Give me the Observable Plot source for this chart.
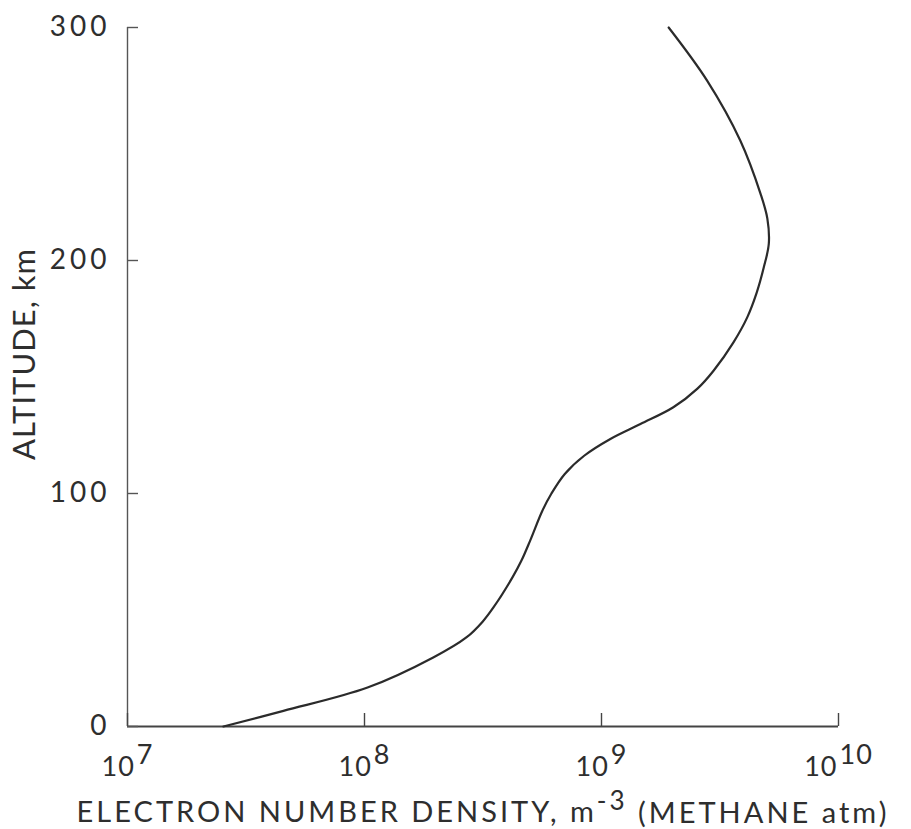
<!DOCTYPE html>
<html>
<head>
<meta charset="utf-8">
<script src="https://cdn.jsdelivr.net/npm/d3@7"></script>
<script src="https://cdn.jsdelivr.net/npm/@observablehq/plot@0.6"></script>
<style>
  html, body { margin: 0; padding: 0; background: #fff; }
</style>
</head>
<body>
<div id="chart"></div>
<script>
// Altitude (km) and electron number density (m^-3)
const altitudeKm = [0, 6.7, 16.7, 29.6, 38.2, 45, 51.1, 64, 71.1, 80, 92.6, 100, 108.4, 116.2, 123.4, 129.8, 137, 145, 152.7, 165, 175.6, 186, 197.1, 207.1, 218, 228.6, 251.5, 277.2, 300];
const electronDensity = [2.54e7, 4.55e7, 1.03e8, 1.95e8, 2.69e8, 3.15e8, 3.50e8, 4.21e8, 4.59e8, 5.01e8, 5.63e8, 6.15e8, 7.0e8, 8.45e8, 1.09e9, 1.46e9, 2.01e9, 2.54e9, 2.97e9, 3.61e9, 4.12e9, 4.51e9, 4.84e9, 5.08e9, 5.01e9, 4.69e9, 3.85e9, 2.79e9, 1.92e9];

const xTicks = [1e7, 1e8, 1e9, 1e10];
const yTicks = [0, 100, 200, 300];
const xLabel = "ELECTRON NUMBER DENSITY, m^-3 (METHANE atm)";
const yLabel = "ALTITUDE, km";

const profile = altitudeKm.map((a, i) => ({altitude: a, density: electronDensity[i]}));

const W = 911, H = 829;
const mL = 127, mR = 73, mT = 27, mB = 103;
const frameW = W - mL - mR, frameH = H - mT - mB;
const ink = "#2e2e2e";

const chart = Plot.plot({
  width: W, height: H,
  marginLeft: mL, marginRight: mR, marginTop: mT, marginBottom: mB,
  x: {type: "log", domain: [1e7, 1e10]},
  y: {domain: [0, 300]},
  style: {fontFamily: "Lato, 'DejaVu Sans', sans-serif", fontSize: "27px", fontWeight: 400, color: ink, background: "#fff"},
  marks: [
    Plot.ruleX([1e7], {stroke: "#555", strokeWidth: 1.4}),
    Plot.ruleY([0], {stroke: "#444", strokeWidth: 1.8}),
    Plot.tickX(xTicks, {x: d => d, insetTop: frameH - 13, stroke: "#444", strokeWidth: 1.4}),
    Plot.tickY(yTicks, {y: d => d, insetRight: frameW - 11, stroke: "#555", strokeWidth: 1.4}),
    Plot.axisX({ticks: xTicks, tickSize: 0, tickPadding: 30, label: null,
      tickFormat: d => "10^" + Math.round(Math.log10(d)), fontSize: 27}),
    Plot.axisY({ticks: yTicks, tickSize: 0, tickPadding: 17, label: null, fontSize: 28}),
    Plot.line(profile, {x: "density", y: "altitude", curve: "catmull-rom", stroke: "#2b2b2b", strokeWidth: 2.2}),
    Plot.text([yLabel], {text: d => d, frameAnchor: "left", textAnchor: "middle", lineAnchor: "middle",
      rotate: -90, dx: -102, dy: -23, fontSize: 31, fill: ink}),
    Plot.text([xLabel], {text: d => d, frameAnchor: "bottom", textAnchor: "middle", lineAnchor: "middle",
      dy: 86, fontSize: 29, fill: ink})
  ]
});

const svg = d3.select(chart);
// superscript exponents on x tick labels
svg.selectAll('g[aria-label="x-axis tick label"] text').each(function () {
  const t = d3.select(this);
  const [b, e] = t.text().split("^");
  t.text(null);
  t.append("tspan").text(b);
  t.append("tspan").attr("dy", "-0.45em").attr("dx", "2").text(e);
  t.style("letter-spacing", "1px");
});
svg.selectAll('g[aria-label="y-axis tick label"] text').style("letter-spacing", "4px");
svg.selectAll("text").each(function () {
  const t = d3.select(this);
  const s = t.text();
  if (s === xLabel) {
    const [pre, rest] = s.split("^");
    const exp = rest.slice(0, 2);
    const post = rest.slice(2);
    t.text(null);
    t.append("tspan").text(pre);
    t.append("tspan").attr("dy", "-0.45em").attr("font-size", "0.9em").text(exp);
    t.append("tspan").attr("dy", "0.45em").text(post);
    t.style("letter-spacing", "3px");
  } else if (s === yLabel) {
    t.style("letter-spacing", "1px");
  }
});

document.getElementById("chart").appendChild(chart);
</script>
</body>
</html>
